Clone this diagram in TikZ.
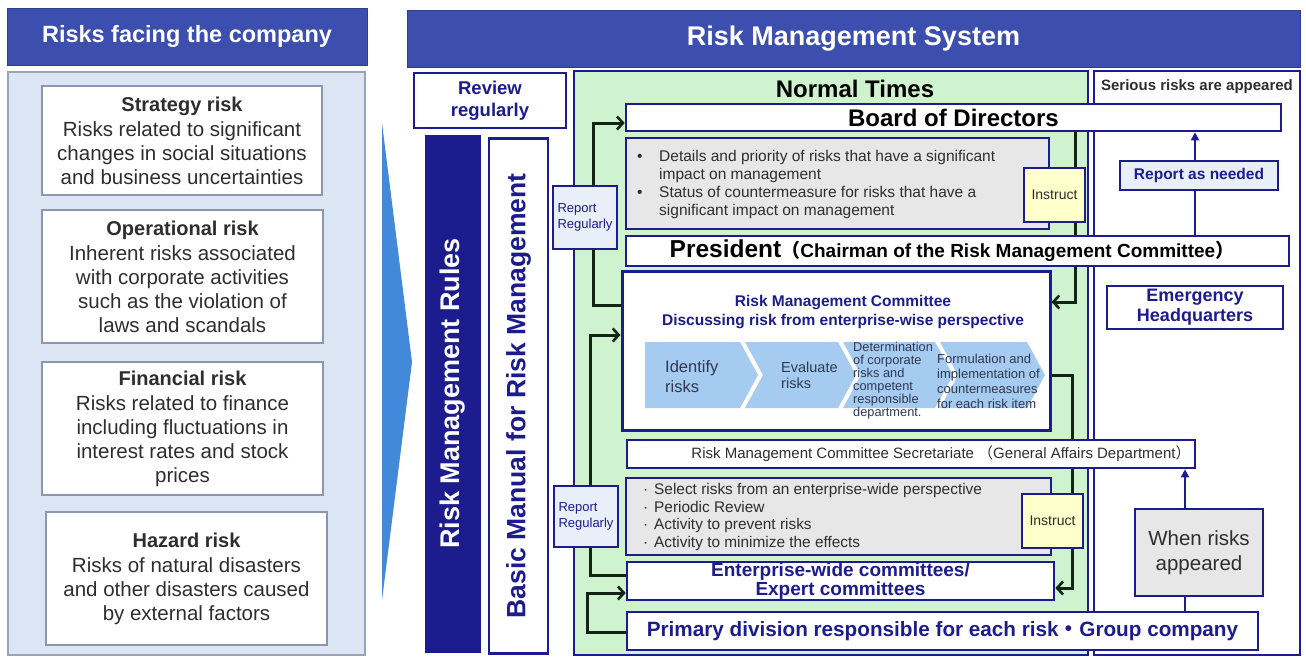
\documentclass[tikz,border=0pt]{standalone}
\usepackage{fontspec}
\setmainfont{Liberation Sans}
\newfontfamily\cjk{Noto Sans CJK JP}
\usetikzlibrary{arrows.meta,calc}

\newcommand\myfs[2]{\fontsize{#1}{#2}\selectfont}

\definecolor{hdrblue}{HTML}{3C4FAE}
\definecolor{navy}{HTML}{1C1C8E}
\definecolor{normalgreen}{HTML}{CFF3CF}
\definecolor{leftfill}{HTML}{DBE5F3}
\definecolor{leftedge}{HTML}{9AA4B8}
\definecolor{riskedge}{HTML}{8C96B0}
\definecolor{instructfill}{HTML}{FFFFCC}
\definecolor{reportfill}{HTML}{E8EFF9}
\definecolor{notefill}{HTML}{E7E7E7}
\definecolor{chevfill}{HTML}{A5CBF1}
\definecolor{chevtext}{HTML}{303850}
\definecolor{txtgray}{HTML}{2E2E2E}
\definecolor{wirecol}{HTML}{142414}
\definecolor{arrowblue}{HTML}{4289D9}

\pgfdeclarelayer{panels}
\pgfdeclarelayer{wires}
\pgfsetlayers{panels,wires,main}

\begin{document}
\begin{tikzpicture}[x=1pt,y=-1pt,
  sz/.style 2 args={minimum width=#1pt, minimum height=#2pt},
  hdr/.style={fill=hdrblue, draw=hdrblue!80!black, line width=1pt, text=white, inner sep=0pt},
  riskbox/.style={fill=white, draw=riskedge, line width=1.5pt, inner sep=0pt, align=center,
    text=txtgray, font=\myfs{20.5}{24}},
  box/.style={fill=white, draw=navy, line width=2.6pt, inner sep=0pt},
  notebox/.style={fill=notefill, draw=navy, line width=2.6pt, inner sep=0pt},
  instructbox/.style={fill=instructfill, draw=navy, line width=2.6pt, inner sep=0pt,
    text=txtgray, font=\myfs{14}{16}},
  reportbox/.style={fill=reportfill, draw=navy, line width=2.6pt, inner sep=0pt,
    text=navy, font=\myfs{13}{16}, align=left},
  chev/.style={fill=chevfill},
  chevlabel/.style={text=chevtext, anchor=west, align=left, inner sep=0pt},
  wire/.style={draw=wirecol, line width=3pt},
  barb/.style={-{Straight Barb[length=6pt,width=13pt,line width=2.6pt]}},
  upline/.style={draw=navy, line width=1.8pt},
  uparrow/.style={upline, -{Triangle[length=8pt,width=8pt]}}]

\begin{pgfonlayer}{panels}
  \fill[white] (0,0) rectangle (1306,657);
\end{pgfonlayer}
\path[use as bounding box] (0,0) rectangle (1306,657);

% ---------- risks facing the company ----------
\node[hdr, sz={360}{57}, font=\bfseries\myfs{23.5}{26}] (lhead) at (187,36.5) {Risks facing the company};
\node[fill=leftfill, draw=leftedge, line width=2pt, sz={357}{583}] (lpanel) at (186.5,363.5) {};

\node[riskbox, sz={280}{109}] (strat) at (182,140.5)
  {{\bfseries\myfs{20}{24}Strategy risk}\\[1pt]Risks related to significant\\changes in social situations\\and business uncertainties};
\node[riskbox, sz={281}{133}] (oper) at (182.5,276.5)
  {{\bfseries\myfs{20}{24}Operational risk}\\[1pt]Inherent risks associated\\with corporate activities\\such as the violation of\\laws and scandals};
\node[riskbox, sz={281}{133}] (fin) at (182.5,428.5)
  {{\bfseries\myfs{20}{24}Financial risk}\\[1pt]Risks related to finance\\including fluctuations in\\interest rates and stock\\prices};
\node[riskbox, sz={281}{133}] (haz) at (186.5,578.5)
  {{\bfseries\myfs{20}{24}Hazard risk}\\[1pt]Risks of natural disasters\\and other disasters caused\\by external factors};

% big pointer between the two halves
\fill[arrowblue] (382,123) -- (412,362) -- (382,600) -- cycle;

% ---------- risk management system ----------
\node[hdr, sz={893}{57}, font=\bfseries\myfs{27}{30}] (rhead) at (853.5,38.5) {Risk Management System};

\node[box, sz={152}{55}, font=\bfseries\myfs{18.5}{22}, text=navy, align=center] (review) at (490,100.5) {Review\\regularly};
\node[fill=navy, draw=navy, line width=1pt, rotate=90, minimum width=517pt, minimum height=55pt,
  text=white, font=\bfseries\myfs{27}{30}] (rules) at (452.5,393.5) {Risk Management Rules};
\node[box, rotate=90, minimum width=515pt, minimum height=59pt,
  text=navy, font=\bfseries\myfs{26.5}{30}] (manual) at (518.5,396) {Basic Manual for Risk Management};

\begin{pgfonlayer}{panels}
  \node[fill=normalgreen, draw=navy, line width=2.6pt, sz={514}{584}] (normal) at (831,363) {};
  \node[box, sz={206}{584}] (serious) at (1197,363) {};
\end{pgfonlayer}
\node[font=\bfseries\myfs{24}{26}] (ntitle) at (855,89) {Normal Times};
\node[font=\bfseries\myfs{15}{16}, text=txtgray] (stitle) at (1197,87) {Serious risks are appeared};

% normal times chain
\node[box, sz={655}{27}, font=\bfseries\myfs{24}{26}] (board) at (953.5,117.5) {Board of Directors};
\node[notebox, sz={423}{91}] (det1) at (837.5,183.5) {};
\node[anchor=west, align=left, inner sep=0pt, text=txtgray, font=\myfs{15.5}{18}] (det1txt) at (637,184)
  {\makebox[22pt][l]{\textbullet}Details and priority of risks that have a significant\\
   \makebox[22pt][l]{}impact on management\\
   \makebox[22pt][l]{\textbullet}Status of countermeasure for risks that have a\\
   \makebox[22pt][l]{}significant impact on management};
\node[instructbox, sz={61}{54}] (instr1) at (1054.5,195) {Instruct};
\node[reportbox, sz={64}{63}] (rep1) at (585,217.5) {Report\\Regularly};

\node[box, sz={663}{30}] (pres) at (957.5,251) {};
\node[inner sep=0pt, font=\bfseries] (prestxt) at (952,251)
  {{\myfs{24.5}{26}President}{\myfs{19}{20}{\cjk （}Chairman of the Risk Management Committee{\cjk ）}}};

\node[box, line width=3pt, sz={428}{159}] (rmc) at (836,350.5) {};
\node[font=\bfseries\myfs{15.5}{19}, text=navy, align=center, inner sep=0pt] (rmctitle) at (843,312.5)
  {Risk Management Committee\\Discussing risk from enterprise-wise perspective};

% process steps
\fill[chev] (645,342) -- (740,342) -- (758,375) -- (740,408) -- (645,408) -- cycle;
\fill[chev] (745,342) -- (838,342) -- (856,375) -- (838,408) -- (745,408) -- (763,375) -- cycle;
\fill[chev] (843,342) -- (935,342) -- (953,375) -- (935,408) -- (843,408) -- (861,375) -- cycle;
\fill[chev] (940,342) -- (1027,342) -- (1045,375) -- (1027,408) -- (940,408) -- (958,375) -- cycle;
\node[chevlabel, font=\myfs{16.5}{20}] (step1) at (665,377) {Identify\\risks};
\node[chevlabel, font=\myfs{14.5}{16}] (step2) at (781,375) {Evaluate\\risks};
\node[chevlabel, font=\myfs{12.8}{13}] (step3) at (853,381) {Determination\\of corporate\\risks and\\competent\\responsible\\department.};
\node[chevlabel, font=\myfs{13}{15}] (step4) at (937,381) {Formulation and\\implementation of\\countermeasures\\for each risk item};

\node[box, sz={568}{28}] (sec) at (911,454) {};
\node[inner sep=0pt, text=txtgray, font=\myfs{15}{17}] (sectxt) at (941,454)
  {Risk Management Committee Secretariate {\cjk （}General Affairs Department{\cjk ）}};

\node[notebox, sz={425}{77}] (det2) at (838.5,516.5) {};
\node[anchor=west, align=left, inner sep=0pt, text=txtgray, font=\myfs{15.4}{17.6}] (det2txt) at (643,517)
  {\makebox[11pt][l]{·}Select risks from an enterprise-wide perspective\\
   \makebox[11pt][l]{·}Periodic Review\\
   \makebox[11pt][l]{·}Activity to prevent risks\\
   \makebox[11pt][l]{·}Activity to minimize the effects};
\node[instructbox, sz={61}{54}] (instr2) at (1052.5,521) {Instruct};
\node[reportbox, sz={64}{61}] (rep2) at (586,516.5) {Report\\Regularly};

\node[box, sz={427}{38}, text=navy, font=\bfseries\myfs{19}{17}, align=center] (ent) at (840.5,581)
  {Enterprise-wide committees/\\Expert committees};
\node[box, sz={631}{38}, text=navy, font=\bfseries\myfs{20.7}{22}] (prim) at (942.5,631)
  {Primary division responsible for each risk{\cjk ・}Group company};

% serious-risk side
\node[fill=reportfill, draw=navy, line width=2.6pt, sz={158}{29}, text=navy,
  font=\bfseries\myfs{15.5}{17}] (ran) at (1199,175.5) {Report as needed};
\node[box, sz={176}{43}, text=navy, font=\bfseries\myfs{18}{20}, align=center] (ehq) at (1195,307.5) {Emergency\\Headquarters};
\node[fill=notefill, draw=navy, line width=2.6pt, sz={128}{87}, text=txtgray,
  font=\myfs{20.5}{25}, align=center] (wra) at (1199,552.5) {When risks\\appeared};

\draw[upline] (pres.north -| 1195,0) -- (ran.south -| 1195,0);
\draw[uparrow] (ran.north -| 1195,0) -- (board.south -| 1195,0);
\draw[upline] (prim.north -| 1185,0) -- (wra.south -| 1185,0);
\draw[uparrow] (wra.north -| 1185,0) -- (sec.south -| 1185,0);

% reporting and instruction loops
\begin{pgfonlayer}{wires}
  \draw[wire, barb] (rmc.west |- 0,305) -| (593,123) -- (board.west |- 0,123);
  \draw[wire, barb] (ent.west |- 0,575) -| (590,335) -- (rmc.west |- 0,335);
  \draw[wire, barb] (prim.west |- 0,632) -| (587,593) -- (ent.west |- 0,593);
  \draw[wire, barb] (board.south -| 1075,0) |- (rmc.east |- 0,302);
  \draw[wire, barb] (rmc.east |- 0,375) -| (1072,588) -- (ent.east |- 0,588);
\end{pgfonlayer}
\end{tikzpicture}
\end{document}
